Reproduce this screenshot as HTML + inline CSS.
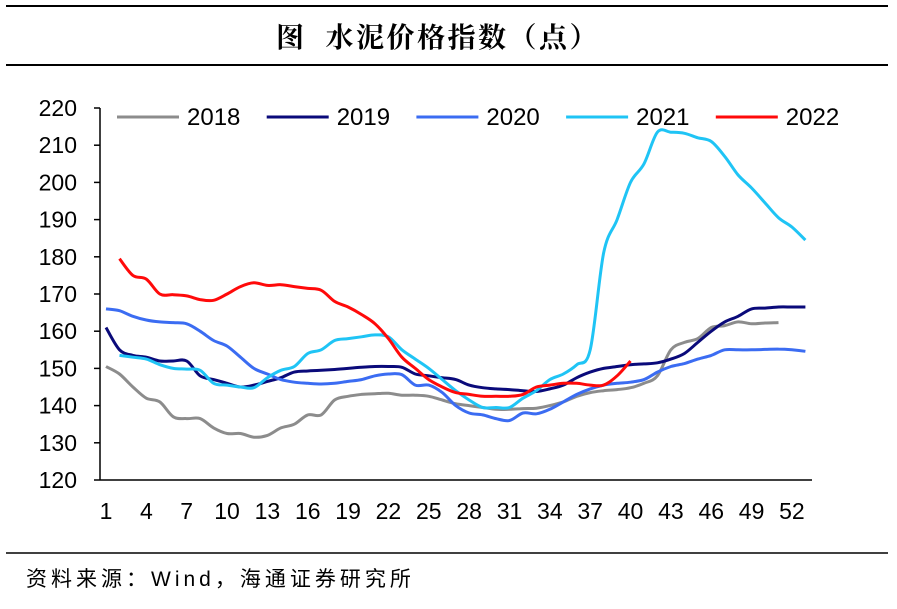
<!DOCTYPE html>
<html><head><meta charset="utf-8"><style>
body{margin:0;background:#fff;}
svg text{font-family:"Liberation Sans","Noto Sans CJK SC",sans-serif;}
</style></head><body>
<svg width="897" height="604" viewBox="0 0 897 604" xmlns="http://www.w3.org/2000/svg">
<line x1="6" y1="6" x2="888" y2="6" stroke="#000" stroke-width="2"/>
<text x="438" y="47" text-anchor="middle" font-size="28" font-weight="bold" letter-spacing="2.5" style="font-family:'Noto Serif CJK SC',serif;white-space:pre">图  水泥价格指数（点）</text>
<line x1="6" y1="65" x2="888" y2="65" stroke="#000" stroke-width="2"/>
<g id="axes"></g>
<g id="series"></g>
<g id="legend"></g>
<line x1="6" y1="553" x2="888" y2="553" stroke="#000" stroke-width="1.5"/>
<text x="26" y="586" font-size="21" letter-spacing="4">资料来源：Wind，海通证券研究所</text>
</svg>
<script>
const yTicks=[120,130,140,150,160,170,180,190,200,210,220];
const xTicks=[1,4,7,10,13,16,19,22,25,28,31,34,37,40,43,46,49,52];
const names=["2018","2019","2020","2021","2022"];
const colors=["#8c8c8c","#0a0a7a","#3b6cf2","#1fc4f5","#ff0a0a"];
const starts=[1,1,1,2,2];
const s2018=[150.5,148.5,145,142,141,137,136.5,136.5,134,132.5,132.5,131.5,132,134,135,137.5,137.5,141.5,142.5,143,143.2,143.3,142.8,142.8,142.5,141.5,140.5,140,139.5,139,139,139.2,139.3,140,141,142.5,143.5,144,144.3,144.8,146,148,155,157,158,161,161.5,162.5,162,162.2,162.3];
const s2019=[161,155,153.5,153,152,152,152,148,147,146,145,145.5,146.5,147.5,149,149.3,149.5,149.7,150,150.3,150.5,150.5,150.3,148.5,148,147.5,147,145.5,144.8,144.5,144.3,144,143.8,144.5,145.5,147.5,149,150,150.5,151,151.2,151.5,152.5,154,157,160,162.5,164,166,166.2,166.5,166.5,166.5];
const s2020=[166,165.5,164,163,162.5,162.3,162,160,157.5,156,153,150,148.5,147,146.3,146,145.8,146,146.5,147,148,148.5,148.3,145.5,145.5,143.5,140,138,137.5,136.5,136,138,137.8,139,141,143,144.5,145.5,146,146.3,147,149,150.5,151.3,152.5,153.5,155,155,155,155.1,155.2,155,154.6];
const s2021=[153.5,153,152.5,151,150,149.8,149.5,146,145.5,145,144.8,147.5,149.5,150.5,154,155,157.5,158,158.5,159,158.5,155,152.5,150,147,144,141.5,139.5,139.5,139.5,142,144,147,148.5,151,155,181,190,200,205,213.5,213.5,213.2,212,211,207,202,198.5,194.5,190.5,188,184.5];
const s2022=[179.5,175,174,170,169.8,169.5,168.5,168.3,170,172,173,172.3,172.5,172,171.5,171,168,166.5,164.5,162,158,153,150,147,145,143.5,143,142.5,142.5,142.5,143,145,145.5,146,146,145.5,145.5,148,152];
const series=[s2018,s2019,s2020,s2021,s2022];
const NS="http://www.w3.org/2000/svg";
const x=w=>106+(w-1)*13.45;
const y=v=>480-(v-120)*3.72;
function mk(t,a,p){const e=document.createElementNS(NS,t);for(const k in a)e.setAttribute(k,a[k]);p.appendChild(e);return e;}
const ax=document.getElementById('axes');
const yl=mk('line',{x1:100,y1:y(220),x2:100,y2:480,stroke:'#000','stroke-width':1.5},ax);


const xl=mk('line',{x1:100,y1:480,x2:812,y2:480,stroke:'#000','stroke-width':1.5},ax);


yTicks.forEach(v=>{
  mk('line',{x1:94,y1:y(v),x2:100,y2:y(v),stroke:'#000','stroke-width':1.5},ax);
  const t=mk('text',{x:77,y:y(v)+8,'text-anchor':'end','font-size':23},ax);
  t.textContent=v;
  
  
});
xTicks.forEach(w=>{
  const t=mk('text',{x:x(w),y:519,'text-anchor':'middle','font-size':23},ax);
  t.textContent=w;
  
  
});
function smooth(pts){
  let d='M'+pts[0][0].toFixed(1)+','+pts[0][1].toFixed(1);
  for(let i=0;i<pts.length-1;i++){
    const p0=pts[i-1]||pts[i],p1=pts[i],p2=pts[i+1],p3=pts[i+2]||p2;
    const c1=[p1[0]+(p2[0]-p0[0])/6,p1[1]+(p2[1]-p0[1])/6];
    const c2=[p2[0]-(p3[0]-p1[0])/6,p2[1]-(p3[1]-p1[1])/6];
    d+='C'+c1[0].toFixed(1)+','+c1[1].toFixed(1)+' '+c2[0].toFixed(1)+','+c2[1].toFixed(1)+' '+p2[0].toFixed(1)+','+p2[1].toFixed(1);
  }
  return d;
}
const sg=document.getElementById('series');
series.forEach((s,i)=>{
  const pts=s.map((v,k)=>[x(starts[i]+k),y(v)]);
  const p=mk('path',{d:smooth(pts),fill:'none',stroke:colors[i],'stroke-width':3,'stroke-linejoin':'round'},sg);
  
  
});
const lg=document.getElementById('legend');
names.forEach((n,i)=>{
  const x0=117+i*149.7;
  const g=mk('g',{},lg);
  
  
  mk('line',{x1:x0,y1:117,x2:x0+62,y2:117,stroke:colors[i],'stroke-width':3},g);
  const t=mk('text',{x:x0+70,y:125,'font-size':24},g);
  t.textContent=n;
});
</script>
</body></html>
